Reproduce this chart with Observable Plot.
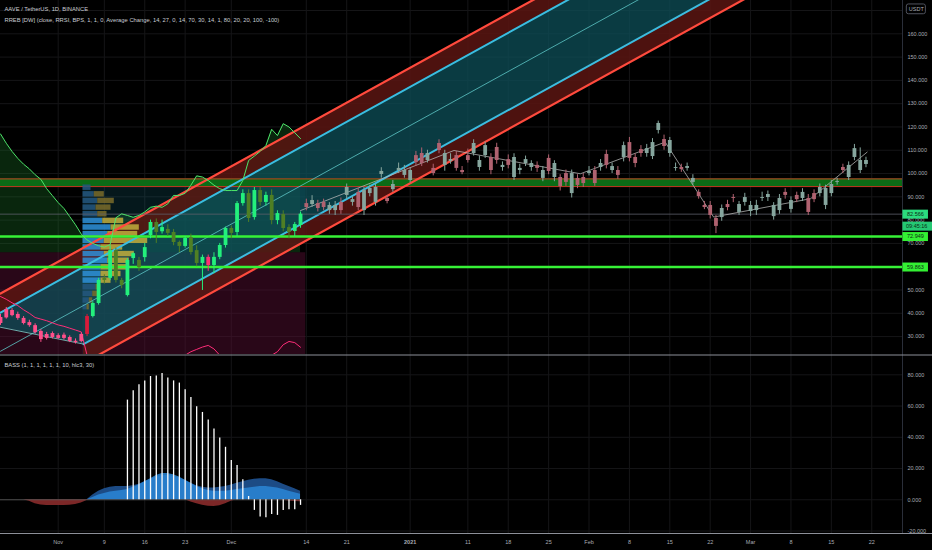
<!DOCTYPE html>
<html>
<head>
<meta charset="utf-8">
<script src="https://cdn.jsdelivr.net/npm/d3@7"></script>
<script src="https://cdn.jsdelivr.net/npm/@observablehq/plot@0.6"></script>
<style>
  html, body { margin: 0; padding: 0; background: #000; }
  #chart { width: 932px; height: 550px; overflow: hidden; background: #000; }
  #chart svg { display: block; }
  .pane { overflow: hidden; width: 932px; }
</style>
</head>
<body>
<div id="chart"><div id="pricePane" class="pane" style="height:354px"></div><div id="oscPane" class="pane" style="height:196px"></div></div>
<script>
const FONT = "'Liberation Sans', Arial, sans-serif";
const originMs = Date.UTC(2020, 10, 1); // day 0 = 1 Nov 2020
const day = d => new Date(originMs + d * 864e5);

// ---------- texts ----------
const title = "AAVE / TetherUS, 1D, BINANCE";
const subtitle = "RREB [DW] (close, RRSI, BPS, 1, 1, 0, Average Change, 14, 27, 0, 14, 70, 30, 14, 1, 80, 20, 20, 100, -100)";
const oscTitle = "BASS (1, 1, 1, 1, 1, 1, 10, hlc3, 30)";
const currency = "USDT";
const countdown = "09:45:16";

// ---------- scales / ticks ----------
const visibleDays = [-10, 146.33];
const priceRange = [22.3, 174.3];
const oscRange = [-21.6, 93];
const priceTicks = [30, 40, 50, 60, 70, 80, 90, 100, 110, 120, 130, 140, 150, 160];
const priceGrid = [30, 40, 50, 60, 70, 80, 90, 100, 110, 120, 130, 140, 150, 160, 170];
const oscTicks = [-20, 0, 20, 40, 60, 80];
const xTickDates = ["2020-11-01","2020-11-09","2020-11-16","2020-11-23","2020-12-01","2020-12-14","2020-12-21","2021-01-01","2021-01-11","2021-01-18","2021-01-25","2021-02-01","2021-02-08","2021-02-15","2021-02-22","2021-03-01","2021-03-08","2021-03-15","2021-03-22"];
const xTickLabels = ["Nov","9","16","23","Dec","14","21","2021","11","18","25","Feb","8","15","22","Mar","8","15","22"];

// ---------- candles: [open, high, low, close, colour key] ----------
const realStartDay = -10;
const realCandles = [
  [38.2,39.5,34.8,35.6,"p"],[38.0,42.5,37.5,41.6,"p"],[41.2,42.0,38.5,39.0,"p"],[39.5,40.5,37.0,37.8,"p"],
  [37.8,38.6,35.0,35.6,"p"],[36.0,37.0,34.0,34.7,"p"],[34.7,35.5,31.0,31.7,"p"],[32.2,33.0,27.5,28.7,"p"],
  [30.9,31.8,28.5,29.2,"p"],[29.6,32.0,29.0,31.3,"p"],[30.4,31.2,28.8,29.2,"p"],[29.2,31.5,28.5,30.6,"p"],
  [29.6,30.3,27.4,27.9,"p"],[28.0,29.0,26.8,27.4,"p"],[27.9,31.5,27.3,30.9,"p"],[30.9,39.5,30.0,38.6,"r"],
  [38.6,45.0,38.0,44.2,"g"],[44.2,55.0,43.5,54.1,"g"],[54.1,56.5,52.5,55.0,"o"],[55.0,69.0,54.0,66.9,"g"],
  [66.9,68.0,53.0,54.1,"o"],[54.1,55.0,50.5,51.9,"o"],[47.6,63.5,47.0,62.7,"g"],[63.5,66.0,61.0,65.6,"g"],
  [62.7,64.0,58.0,59.6,"o"],[63.9,70.0,62.0,68.2,"g"],[73.4,80.0,72.0,79.0,"g"],[79.0,80.5,70.0,74.7,"o"],
  [75.0,80.0,74.0,76.8,"g"],[76.0,78.0,73.0,74.3,"o"],[74.7,76.0,69.0,70.4,"o"],[70.4,71.0,66.0,68.7,"o"],
  [68.7,73.0,68.0,72.1,"g"],[72.5,74.0,65.0,66.1,"o"],[66.9,69.0,60.0,61.4,"o"],[61.4,65.0,49.8,64.0,"g"],
  [64.0,65.0,58.0,60.5,"m"],[60.5,66.0,57.0,64.0,"g"],[64.0,70.0,63.0,69.1,"g"],[69.1,77.0,68.0,76.4,"g"],
  [76.4,77.5,72.0,74.3,"o"],[74.7,88.0,73.0,87.1,"g"],[87.1,93.0,86.0,91.4,"g"],[91.4,93.0,79.0,80.7,"o"],
  [81.1,94.0,80.0,92.7,"g"],[92.7,94.0,86.0,87.6,"o"],[87.6,92.0,86.0,90.6,"g"],[90.6,93.0,78.0,79.8,"o"],
  [79.8,84.0,78.0,82.8,"g"],[82.4,84.0,75.0,76.4,"o"],[76.8,78.0,72.0,74.7,"o"],[75.1,79.0,73.0,78.1,"g"],
  [77.7,83.5,76.5,82.57,"g"]
];
const projStartDay = 43;
const projCandles = [
  [87.1,89.0,84.0,85.4,"r"],[86.7,90.5,85.5,88.4,"g"],[87.1,88.5,83.5,85.0,"r"],[87.6,89.0,84.0,85.4,"r"],
  [84.1,87.5,82.5,86.3,"g"],[84.1,88.0,82.0,86.3,"g"],[87.6,89.5,82.5,84.1,"r"],[90.6,95.5,89.0,94.0,"g"],
  [87.6,90.0,86.0,88.8,"g"],[91.9,93.5,84.0,85.4,"r"],[84.1,94.0,82.0,92.7,"g"],[91.4,95.0,90.0,93.6,"g"],
  [87.6,95.5,86.0,94.0,"g"],[99.6,102.5,98.0,100.9,"g"],[89.3,90.5,87.0,88.0,"r"],[93.1,97.0,92.0,95.3,"g"],
  [101.3,104.5,100.0,102.2,"g"],[99.2,103.5,98.0,101.3,"g"],[97.0,102.5,96.0,101.3,"g"],[107.7,109.5,103.0,104.7,"r"],
  [108.6,111.0,103.0,104.3,"r"],[105.6,110.0,104.5,108.6,"g"],[102.2,104.0,99.0,100.0,"r"],[112.9,114.5,108.5,109.9,"r"],
  [103.5,110.0,101.0,108.6,"g"],[105.2,108.5,104.0,106.0,"g"],[107.7,109.5,101.0,102.2,"r"],[101.3,103.0,99.5,100.4,"r"],
  [107.7,110.5,104.5,105.6,"r"],[108.6,114.5,107.5,112.9,"g"],[102.6,107.5,101.0,105.6,"g"],[107.7,113.5,106.5,112.0,"g"],
  [106.9,108.5,99.5,101.3,"r"],[111.2,113.0,104.0,105.6,"r"],[102.6,105.0,101.0,103.5,"g"],[106.0,108.0,102.0,103.5,"r"],
  [98.3,108.5,97.0,106.9,"g"],[101.3,104.0,99.5,102.2,"g"],[104.3,107.5,103.0,106.0,"g"],[102.6,105.5,101.0,104.3,"g"],
  [103.5,105.0,100.5,102.2,"r"],[97.9,103.0,96.5,101.3,"g"],[106.5,108.0,99.5,100.9,"r"],[98.3,105.5,96.5,104.3,"g"],
  [98.3,99.5,92.5,94.4,"r"],[100.0,101.5,94.5,96.2,"r"],[91.4,101.5,89.5,100.0,"g"],[97.9,99.5,93.5,94.9,"r"],
  [98.3,100.0,94.0,95.7,"r"],[100.0,103.0,99.0,100.9,"g"],[101.3,103.0,94.5,95.7,"r"],[102.6,106.0,101.0,104.3,"g"],
  [108.2,110.0,102.0,103.5,"r"],[101.3,104.5,100.0,103.0,"g"],[101.3,103.0,97.5,99.2,"r"],[106.9,113.5,105.0,112.0,"g"],
  [113.3,115.5,105.0,106.5,"r"],[106.9,108.5,102.5,104.3,"r"],[110.3,112.0,107.0,108.6,"r"],[108.6,112.5,107.0,110.7,"g"],
  [107.3,115.0,106.0,113.3,"g"],[118.5,122.5,117.0,121.5,"g"],[114.6,116.5,110.0,111.6,"r"],[108.6,115.5,107.0,114.2,"g"],
  [102.2,104.5,101.0,102.6,"g"],[102.6,104.0,100.5,101.7,"r"],[102.2,104.5,101.0,103.0,"g"],[96.2,99.5,95.0,97.9,"g"],
  [91.9,93.0,89.0,90.1,"r"],[86.3,88.0,84.5,85.4,"r"],[86.3,88.0,80.5,82.0,"r"],[80.7,82.0,74.2,77.3,"r"],
  [81.1,86.5,79.5,85.0,"g"],[86.7,88.5,84.0,85.4,"r"],[89.7,91.0,87.5,89.3,"r"],[83.3,88.0,82.0,86.7,"g"],
  [87.6,91.5,86.0,89.7,"g"],[83.7,88.0,81.5,86.3,"g"],[84.1,88.5,82.0,86.3,"g"],[89.3,92.0,88.0,89.7,"g"],
  [89.7,92.5,88.0,91.0,"g"],[81.5,87.5,80.0,86.3,"g"],[84.1,91.0,82.5,89.3,"g"],[91.9,93.5,89.0,90.6,"r"],
  [84.6,90.0,83.0,88.4,"g"],[90.6,92.0,87.5,88.8,"r"],[89.3,93.5,88.0,91.9,"g"],[89.3,91.0,82.0,83.3,"r"],
  [91.4,93.0,87.5,88.8,"r"],[91.4,95.5,90.0,94.0,"g"],[86.3,95.0,84.5,93.6,"g"],[91.4,97.0,90.0,95.3,"g"],
  [96.2,98.0,95.0,96.6,"g"],[102.6,104.0,100.0,101.3,"r"],[98.3,105.0,97.0,103.5,"g"],[106.9,112.5,105.5,110.7,"g"],
  [101.3,111.0,100.0,105.6,"g"],[103.9,107.0,102.5,105.6,"g"]
];

// ---------- overlay indicator lines (daily, from day -10) ----------
const lineStartDay = -10;
const rsiLine = [117,113,109.5,106.5,104,102,99.5,97.5,93.5,90.5,87.5,85,81.5,78,74,71.5,70,69,68.4,69.5,81,82.7,82,81.2,82,83.5,85.5,86,85.5,87,90.6,90.6,91.5,95,99,98.5,97,95,93.5,92.7,92.7,92.7,97,105.6,107.5,109.5,112,119,116.3,121.4,120,117.5,115];
const rsiFillFloor = 66;
const pinkLine = [47.2,46.0,44.5,43.3,41.5,40.0,38.2,37.5,36.8,35.9,35.0,34.4,33.6,32.8,32.0,22.0,18,15,13,12,12,12,12,13,14,14,14,15,16,17,18,20,22,23.5,24.5,25.5,26.2,24.7,22,19,17,16,16,17,18,19,20.5,22,23.5,26.5,27.9,27.4,25.4];
const zigzagDays = [42, 68.6, 90.5, 105.2, 113.6, 130.4, 140.2];
const zigzagValues = [84.1, 109.9, 99.9, 113.5, 81.3, 89.2, 109.2];

// ---------- regression channel ----------
const channelDays = [-10, 146.33];
const channelMid = [23.7, 237.1];
const channelInner = 16.6;
const channelOuter = 24.8;
const channelLowerStartDay = 4.4;
const channelLeftEdge = 34.0;

// ---------- levels & zones ----------
const supportLevels = [72.949, 59.863];
const lastPrice = 82.566;
const resistanceZone = [94.4, 97.7];
const shadedZoneDays = [4.3, 42.9];
const shadedZoneTop = 95.3;
const lowZoneTop = 66;

// ---------- volume profile (rows from low price up) ----------
const profileBaseDay = 4.3;
const profileLow = 41.2;
const profileStep = 2.85;
const profileBuy  = [4, 6.3, 9.7, 13, 18, 18, 18, 24.7, 21.3, 18, 21.3, 24.7, 28, 19.7, 14.7, 13, 14.7, 11.3, 8];
const profileSell = [2.3, 3.4, 5, 5, 10, 20, 26.7, 21.6, 30, 21.7, 43.4, 30, 28.3, 21, 9.3, 15, 16.6, 10, 0];
const profileValueArea = [4, 13];
const profileDaysPerUnit = 1 / 5.77;

// ---------- BASS oscillator ----------
const barStartDay = 12;
const bassBars = [63.8,69.8,73.6,76.1,78.9,79.3,80.8,77.9,76.1,74.7,70.4,65.5,59.6,55.9,51.1,45.3,39.6,33.6,25.1,21.9,12.8,2.1,-6.8,-11.1,-11.5,-9.4,-10,-6.8,-6.4,-6.4,-3.6];
const blueStartDay = 5;
const blueLight = [0,1.5,3,4,5,5.5,6,6.5,8,9.5,11.5,13.5,15.5,16.8,16.8,16,14.5,12.5,10.5,8.5,7,6,5.5,5.5,5.5,6,6.5,7,7.5,8,8.5,8.5,8,7.5,6.5,5.5,4.5,3.5];
const blueDark  = [0,3,5.5,7,8,8.5,8.5,8.5,9,10,11.5,13,14.5,15.5,15.5,15,14,12.5,10.5,9,8,7.5,7.5,8,8.5,9.5,10.5,11.5,12.5,13.2,13.4,13.4,12.8,11.5,10,8.5,7,5.5];
const redStartDay = -10;
const redArea = [0,0,0,0,0,-1,-2.5,-3.3,-3.6,-3.6,-3.6,-3.6,-3.5,-3,-2,-0.5,0, 0,0,0,0,0,0,0,0,0,0,0,0,0,0,0,0, -1.5,-2.5,-3.5,-4.2,-4.3,-3.8,-2.5,-1, 0,0,0,0,0,0,0,0, -0.3,-0.8,-1.1,-1.2];

// ---------- colours ----------
const candleColor = {p: "#ff4f8a", r: "#d81b3a", g: "#23f07c", o: "#4f7f24", m: "#ff2f70", fg: "#86a69e", fr: "#b06270"};
const axisText = "#a9acb4";

// ---------- derived rows ----------
const candles = realCandles.map((r, i) => ({date: day(realStartDay + i), o: r[0], h: r[1], l: r[2], c: r[3], col: candleColor[r[4]]}))
  .concat(projCandles.map((r, i) => ({date: day(projStartDay + i), o: r[0], h: r[1], l: r[2], c: r[3], col: candleColor["f" + r[4]]})));
const rsiRows = rsiLine.map((v, i) => ({date: day(lineStartDay + i), v}));
const pinkRows = pinkLine.map((v, i) => ({date: day(lineStartDay + i), v}));
const zigRows = zigzagDays.map((d, i) => ({date: day(d), v: zigzagValues[i]}));
const mid = d => channelMid[0] + (channelMid[1] - channelMid[0]) * (d - channelDays[0]) / (channelDays[1] - channelDays[0]);
const bandDays = [channelDays[0], channelLowerStartDay, channelDays[1]];
const upperBand = bandDays.map(d => ({date: day(d), y1: mid(d) + channelInner, y2: mid(d) + channelOuter}));
const midBand = bandDays.map((d, i) => ({date: day(d), y1: i === 0 ? channelLeftEdge : mid(d) - channelInner, y2: mid(d) + channelInner}));
const lowerBand = bandDays.slice(1).map(d => ({date: day(d), y1: mid(d) - channelOuter, y2: mid(d) - channelInner}));
const zoneTint = shadedZoneDays.map(d => ({date: day(d), y1: mid(d) - channelOuter, y2: shadedZoneTop}));
const lineRows = (days, off) => days.map(d => ({date: day(d), v: mid(d) + off}));
const fullDays = [channelDays[0], channelDays[1]];
const lowDays = [channelLowerStartDay, channelDays[1]];
const leftEdgeRows = [{date: day(channelDays[0]), v: channelLeftEdge}, {date: day(channelLowerStartDay), v: mid(channelLowerStartDay) - channelInner}];
const profileRows = profileBuy.map((b, i) => ({
  lo: profileLow + i * profileStep, hi: profileLow + (i + 1) * profileStep, b, s: profileSell[i],
  va: i >= profileValueArea[0] && i <= profileValueArea[1]
}));
const xTicks = xTickDates.map((s, i) => ({date: new Date(s + "T00:00:00Z"), label: xTickLabels[i]}));
const xTicksNormal = xTicks.filter(t => t.label !== "2021");
const xTicksYear = xTicks.filter(t => t.label === "2021");
const xDomain = [day(visibleDays[0]), day(visibleDays[1])];
const priceTags = [
  {value: lastPrice, label: lastPrice.toFixed(3), color: "#2bdc7e"},
  {value: supportLevels[0], label: supportLevels[0].toFixed(3), color: "#33f033"},
  {value: supportLevels[1], label: supportLevels[1].toFixed(3), color: "#33f033"}
];
const barRows = bassBars.map((v, i) => ({date: day(barStartDay + i), v}));
const lightRows = blueLight.map((v, i) => ({date: day(blueStartDay + i), v}));
const darkRows = blueDark.map((v, i) => ({date: day(blueStartDay + i), v}));
const redRows = redArea.map((v, i) => ({date: day(redStartDay + i), v}));

const baseStyle = {background: "#000", color: axisText, fontFamily: FONT, fontSize: "5.5px", overflow: "hidden"};
const tagX1 = day(visibleDays[1] + 0.07), tagX2 = day(visibleDays[1] + 4.5);

// ---------- price pane ----------
const pricePlot = Plot.plot({
  width: 932, height: 354, marginTop: 0, marginBottom: 0, marginLeft: 0, marginRight: 30,
  x: {type: "utc", domain: xDomain, axis: null},
  y: {domain: priceRange, axis: null},
  color: {type: "identity"},
  style: baseStyle,
  marks: [
    Plot.ruleY(priceGrid, {stroke: "#151517"}),
    Plot.ruleX(xTicks, {x: "date", stroke: "#151517"}),
    // background zones
    Plot.rect([0], {x1: () => day(visibleDays[0]), x2: () => day(shadedZoneDays[1]), y1: () => priceRange[0], y2: () => lowZoneTop, fill: "#5a1036", fillOpacity: 0.45}),
    Plot.areaY(rsiRows, {x: "date", y1: () => rsiFillFloor, y2: "v", fill: "#1f8a2f", fillOpacity: 0.28}),
    Plot.areaY(zoneTint, {x: "date", y1: "y1", y2: "y2", fill: "#1a7a8a", fillOpacity: 0.2, clip: true}),
    // channel fills
    Plot.areaY(upperBand, {x: "date", y1: "y1", y2: "y2", fill: "#5a1512", fillOpacity: 0.85, clip: true}),
    Plot.areaY(midBand, {x: "date", y1: "y1", y2: "y2", fill: "#0e4f58", fillOpacity: 0.75, clip: true}),
    Plot.areaY(lowerBand, {x: "date", y1: "y1", y2: "y2", fill: "#5a1512", fillOpacity: 0.85, clip: true}),
    // resistance zone
    Plot.rect([0], {x1: () => xDomain[0], x2: () => xDomain[1], y1: () => resistanceZone[0], y2: () => resistanceZone[1], fill: "#0c6b16"}),
    Plot.ruleY(resistanceZone, {stroke: "#c23b22", strokeWidth: 1}),
    // volume profile
    Plot.rect(profileRows, {x1: () => day(profileBaseDay), x2: d => day(profileBaseDay + d.b * profileDaysPerUnit), y1: "lo", y2: "hi", insetTop: 0.6, insetBottom: 0.6, fill: d => d.va ? "#2e8fd8" : "#24577f", fillOpacity: 0.85}),
    Plot.rect(profileRows, {x1: d => day(profileBaseDay + d.b * profileDaysPerUnit), x2: d => day(profileBaseDay + (d.b + d.s) * profileDaysPerUnit), y1: "lo", y2: "hi", insetTop: 0.6, insetBottom: 0.6, fill: d => d.va ? "#c2ae3c" : "#7a6c2a", fillOpacity: 0.85}),
    // channel lines
    Plot.line(lineRows(fullDays, channelOuter), {x: "date", y: "v", stroke: "#ff4a3d", strokeWidth: 2.2, clip: true}),
    Plot.line(lineRows(fullDays, channelInner), {x: "date", y: "v", stroke: "#3bbde0", strokeWidth: 2, clip: true}),
    Plot.line(lineRows(fullDays, 0), {x: "date", y: "v", stroke: "#5ec8c8", strokeWidth: 0.8, clip: true}),
    Plot.line(lineRows(lowDays, -channelInner), {x: "date", y: "v", stroke: "#3bbde0", strokeWidth: 2, clip: true}),
    Plot.line(lineRows(lowDays, -channelOuter), {x: "date", y: "v", stroke: "#ff4a3d", strokeWidth: 2.2, clip: true}),
    Plot.line(leftEdgeRows, {x: "date", y: "v", stroke: "#7fd6d0", strokeWidth: 0.8, clip: true}),
    // levels
    Plot.ruleY(supportLevels, {stroke: "#36f236", strokeWidth: 2.6}),
    Plot.ruleY([lastPrice], {stroke: "#5d606b", strokeWidth: 0.8}),
    // indicator lines
    Plot.line(rsiRows, {x: "date", y: "v", stroke: "#4ee66a", strokeWidth: 1, clip: true}),
    Plot.line(pinkRows, {x: "date", y: "v", stroke: "#ff2d78", strokeWidth: 1, clip: true}),
    Plot.line(zigRows, {x: "date", y: "v", stroke: "#b8b8b8", strokeWidth: 0.9, strokeOpacity: 0.85}),
    // candles
    Plot.ruleX(candles, {x: "date", y1: "l", y2: "h", stroke: "col", strokeWidth: 1}),
    Plot.ruleX(candles, {x: "date", y1: "o", y2: "c", stroke: "col", strokeWidth: 3.8}),
    // separators
    Plot.ruleX([xDomain[1]], {stroke: "#2a2e39"}),
    // right axis
    Plot.text(priceTicks, {y: d => d, text: d => d.toFixed(3), frameAnchor: "right", dx: 5, textAnchor: "start", fill: axisText, fontSize: 5.5}),
    Plot.ruleY(priceTags, {y: "value", x1: () => tagX1, x2: () => tagX2, stroke: "color", strokeWidth: 9}),
    Plot.ruleY([lastPrice], {x1: () => tagX1, x2: () => day(visibleDays[1] + 5.2), dy: 12, stroke: "#24c873", strokeWidth: 9}),
    Plot.text(priceTags, {y: "value", text: "label", frameAnchor: "right", dx: 4.5, textAnchor: "start", fill: "#0d2a14", fontSize: 5.5}),
    Plot.text([countdown], {y: () => lastPrice, text: d => d, frameAnchor: "right", dx: 3.5, dy: 12, textAnchor: "start", fill: "#0d2a14", fontSize: 5.5}),
    // currency badge
    Plot.rect([0], {x1: () => day(visibleDays[1] + 0.75), x2: () => day(visibleDays[1] + 4.05), y1: () => 168.4, y2: () => 172.6, fill: "none", stroke: "#50535e", rx: 2}),
    Plot.text([currency], {x: () => day(visibleDays[1] + 2.4), y: () => 170.5, text: d => d, fill: axisText, fontSize: 5.5}),
    // header
    Plot.text([title], {text: d => d, frameAnchor: "top-left", dx: 4, dy: 9, lineAnchor: "middle", textAnchor: "start", fill: "#c9ccd3", fontSize: 5.8}),
    Plot.text([subtitle], {text: d => d, frameAnchor: "top-left", dx: 4, dy: 20, lineAnchor: "middle", textAnchor: "start", fill: "#c9ccd3", fontSize: 5.8})
  ]
});
document.getElementById("pricePane").appendChild(pricePlot);

// ---------- oscillator pane ----------
const oscPlot = Plot.plot({
  width: 932, height: 196, marginTop: 0, marginBottom: 17, marginLeft: 0, marginRight: 30,
  x: {type: "utc", domain: xDomain, axis: null},
  y: {domain: oscRange, axis: null},
  color: {type: "identity"},
  style: baseStyle,
  marks: [
    Plot.ruleY(oscTicks, {stroke: "#151517"}),
    Plot.ruleX(xTicks, {x: "date", stroke: "#151517"}),
    Plot.areaY(redRows, {x: "date", y: "v", fill: "#8a2b2b", fillOpacity: 0.9}),
    Plot.areaY(darkRows, {x: "date", y: "v", fill: "#1d4f8c", fillOpacity: 0.95}),
    Plot.areaY(lightRows, {x: "date", y: "v", fill: "#2a86d6", fillOpacity: 0.85}),
    Plot.ruleY([0], {x1: () => xDomain[0], x2: () => day(42), stroke: "#5a5a5a", strokeWidth: 0.8}),
    Plot.ruleX(barRows, {x: "date", y1: () => 0, y2: "v", stroke: "#ffffff", strokeWidth: 1.3}),
    Plot.ruleX([xDomain[1]], {stroke: "#2a2e39"}),
    Plot.ruleY([oscRange[1]], {x1: () => xDomain[0], x2: () => day(visibleDays[1] + 6), dy: 0.5, stroke: "#8d9099", strokeWidth: 1}),
    Plot.ruleY([oscRange[0]], {x1: () => xDomain[0], x2: () => day(visibleDays[1] + 6), stroke: "#8d9099", strokeWidth: 1}),
    Plot.text(oscTicks, {y: d => d, text: d => d.toFixed(3), frameAnchor: "right", dx: 5, textAnchor: "start", fill: axisText, fontSize: 5.5}),
    Plot.text([oscTitle], {text: d => d, frameAnchor: "top-left", dx: 4, dy: 11, lineAnchor: "middle", textAnchor: "start", fill: "#c9ccd3", fontSize: 5.8}),
    Plot.text(xTicksNormal, {x: "date", text: "label", frameAnchor: "bottom", dy: 9, lineAnchor: "middle", fill: axisText, fontSize: 5.5}),
    Plot.text(xTicksYear, {x: "date", text: "label", frameAnchor: "bottom", dy: 9, lineAnchor: "middle", fill: axisText, fontSize: 5.5, fontWeight: "bold"})
  ]
});
document.getElementById("oscPane").appendChild(oscPlot);
</script>
</body>
</html>
